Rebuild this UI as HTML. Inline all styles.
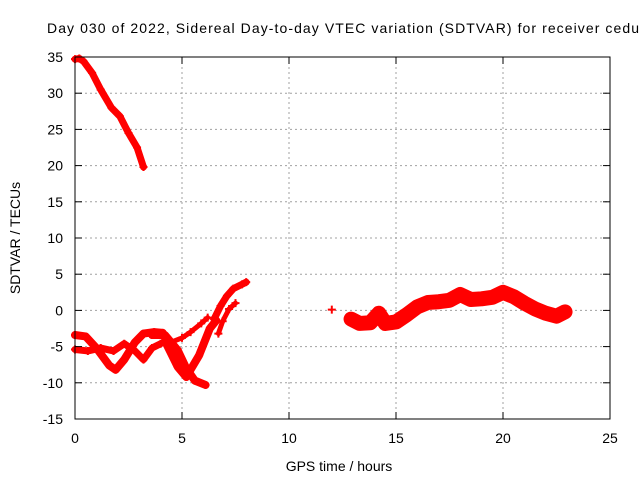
<!DOCTYPE html>
<html><head><meta charset="utf-8"><style>
body{margin:0;background:#fff;width:640px;height:480px;overflow:hidden}
svg{display:block;font-family:"Liberation Sans",sans-serif}
</style></head><body>
<svg id="chart" width="640" height="480">
<text x="47" y="33" font-size="14" fill="#000" textLength="592" lengthAdjust="spacing">Day 030 of 2022, Sidereal Day-to-day VTEC variation (SDTVAR) for receiver cedu</text>
<g id="grid"></g>
<g id="marks"></g>
<g id="axes"></g>
<text x="339" y="471" font-size="14" text-anchor="middle">GPS time / hours</text>
<text transform="translate(20,238) rotate(-90)" font-size="14" text-anchor="middle">SDTVAR / TECUs</text>
</svg>
<script>
const xTicks=[0,5,10,15,20,25];
const yTicks=[-15,-10,-5,0,5,10,15,20,25,30,35];
const trackTop=[[0,34.7],[0.2,34.8],[0.4,34.4],[0.8,32.8],[1.2,30.5],[1.7,28],[2.1,26.8],[2.5,24.5],[2.9,22.5],[3.2,19.8]];
const trackLowA=[[0,-3.4],[0.5,-3.6],[1.0,-5.2],[1.6,-7.6],[1.9,-8.2],[2.3,-6.8],[2.8,-4.4],[3.2,-3.2],[3.7,-3.0],[4.1,-3.1]];
const trackLowB=[[0,-5.4],[0.6,-5.6],[1.2,-5.2],[1.8,-5.6],[2.3,-4.6],[2.8,-5.6],[3.2,-6.8],[3.6,-5.2],[4.0,-4.6]];
const trackLowC=[[3.6,-3.4],[4.2,-3.4],[4.8,-5.5],[5.2,-8],[5.6,-9.7],[6.1,-10.3]];
const trackLowD=[[4.2,-4.2],[4.8,-7.8],[5.2,-9.2],[5.8,-6.2],[6.3,-2.5],[6.6,-1.4]];
const trackLowE=[[4.4,-4.5],[5.0,-3.8],[5.4,-3.0],[5.9,-1.8],[6.2,-1.0]];
const trackRise=[[6.5,-1.2],[6.8,0.6],[7.1,2.0],[7.4,3.0],[7.8,3.6],[8.0,3.9]];
const trackRise2=[[6.7,-3.2],[6.9,-1.5],[7.2,0.2],[7.5,1.0]];
const trackRight=[[12.9,-1.2],[13.3,-1.8],[13.8,-1.7],[14.2,-0.4],[14.5,-1.8],[15.0,-1.6],[15.5,-0.6],[16.0,0.5],[16.5,1.1],[17.0,1.2],[17.5,1.4],[18.0,2.2],[18.5,1.5],[19.0,1.6],[19.5,1.8],[20.0,2.5],[20.5,1.9],[21.0,1.0],[21.5,0.2],[22.0,-0.4],[22.5,-0.8],[22.9,-0.2]];
const trackLone=[[12.0,0.1]];
const X=v=>75+v*21.4, Y=v=>310.4-v*7.24;
const NS='http://www.w3.org/2000/svg';
function mk(tag,attrs,parent){const e=document.createElementNS(NS,tag);for(const k in attrs)e.setAttribute(k,attrs[k]);parent.appendChild(e);return e;}
const grid=document.getElementById('grid'),axes=document.getElementById('axes'),marks=document.getElementById('marks');
xTicks.forEach(t=>{
  if(t>0&&t<25){const l=mk('line',{x1:X(t),x2:X(t),y1:57,y2:419,stroke:'#a0a0a0','stroke-dasharray':'2,3'},grid);
  
  }
  const tx=mk('text',{x:X(t),y:443,'font-size':14,'text-anchor':'middle'},axes);tx.textContent=t;
  
  
  mk('line',{x1:X(t),x2:X(t),y1:419,y2:412,stroke:'#000'},axes);
  mk('line',{x1:X(t),x2:X(t),y1:57,y2:64,stroke:'#000'},axes);
});
yTicks.forEach(t=>{
  if(t>-15&&t<35){const l=mk('line',{x1:75,x2:610,y1:Y(t),y2:Y(t),stroke:'#a0a0a0','stroke-dasharray':'2,3'},grid);
  
  }
  const tx=mk('text',{x:63,y:Y(t)+5,'font-size':14,'text-anchor':'end'},axes);tx.textContent=t;
  
  
  mk('line',{x1:75,x2:82,y1:Y(t),y2:Y(t),stroke:'#000'},axes);
  mk('line',{x1:610,x2:603,y1:Y(t),y2:Y(t),stroke:'#000'},axes);
});
const fr=mk('rect',{x:75,y:57,width:535,height:362,fill:'none',stroke:'#000'},axes);


function track(data,w,name){
  if(data.length>1){const p=mk('polyline',{points:data.map(d=>X(d[0])+','+Y(d[1])).join(' '),fill:'none',stroke:'#f00','stroke-width':w,'stroke-linejoin':'round','stroke-linecap':'round'},marks);
  
  }
  data.forEach(d=>{const x=X(d[0]),y=Y(d[1]);
    const m=mk('path',{d:`M${x-4},${y}H${x+4}M${x},${y-4}V${y+4}`,stroke:'#f00','stroke-width':2},marks);
    
    });
}
track(trackTop,7,'track-top');
track(trackLowA,8,'track-low-a');
track(trackLowB,7,'track-low-b');
track(trackLowC,8,'track-low-c');
track(trackLowD,8,'track-low-d');
track(trackLowE,5,'track-low-e');
track(trackRise,7,'track-rise');
track(trackRise2,5,'track-rise-2');
track(trackRight,15,'track-right');
track(trackLone,2,'lone-point');
</script>
</body></html>
